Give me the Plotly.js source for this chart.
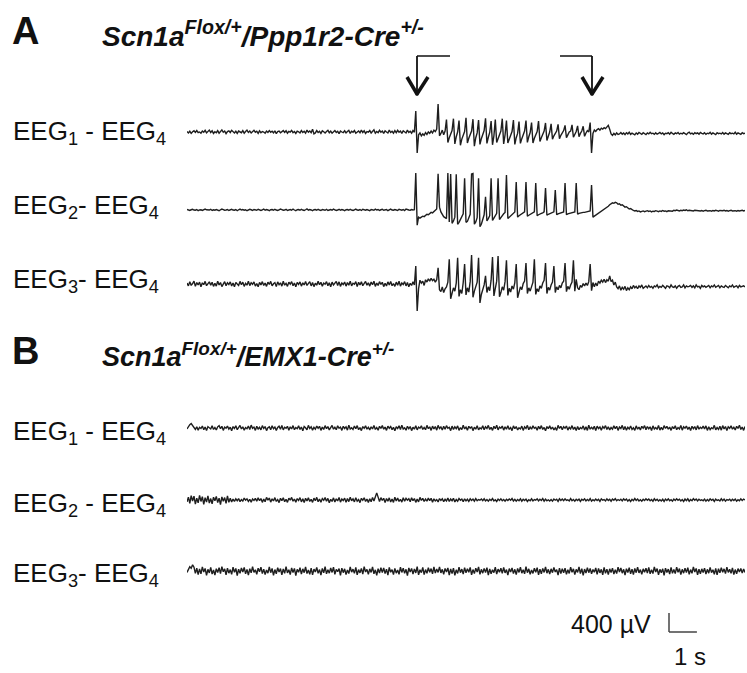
<!DOCTYPE html>
<html><head><meta charset="utf-8">
<script src="https://cdn.plot.ly/plotly-3.0.1.min.js"></script>
<style>html,body{margin:0;padding:0;background:#fff}#chart{width:747px;height:673px}</style>
</head><body><div id="chart"></div>
<script>
// ---------------- DATA (µV, sampled recordings) ----------------
const DT_A = 0.05;   // s per sample, panel A
const DT_B = 0.05;   // s per sample, panel B
const DURATION = 20; // s
const SCALE_UV = 400, SCALE_S = 1;
const channelLabelsA = ["EEG<sub>1</sub> - EEG<sub>4</sub>", "EEG<sub>2</sub>- EEG<sub>4</sub>", "EEG<sub>3</sub>- EEG<sub>4</sub>"];
const channelLabelsB = ["EEG<sub>1</sub> - EEG<sub>4</sub>", "EEG<sub>2</sub> - EEG<sub>4</sub>", "EEG<sub>3</sub>- EEG<sub>4</sub>"];
const titleA = "<b><i>Scn1a<sup>Flox/+</sup>/Ppp1r2-Cre<sup>+/-</sup></i></b>";
const titleB = "<b><i>Scn1a<sup>Flox/+</sup>/EMX1-Cre<sup>+/-</sup></i></b>";

const A1 = [10,-20,15,-30,5,25,-10,30,-15,0,
-25,20,-5,35,-20,10,40,-10,25,-30,
5,-15,30,-25,15,45,-5,20,-35,10,
25,-10,35,0,-20,15,-30,20,5,-15,
30,-25,10,40,-10,20,-20,5,35,-5,
15,-30,25,-15,10,0,-25,20,-10,30,
-5,15,-20,25,-35,10,20,-15,5,30,
-10,25,-25,15,0,35,-15,10,-30,20,
5,-20,30,-10,15,-25,40,-5,20,-15,
60,-40,-20,30,-10,15,-30,25,5,-20,
10,35,-15,20,-25,5,30,-10,15,-35,
20,0,-15,25,-20,10,35,-30,15,-5,
30,-25,5,20,-15,40,-10,25,-30,10,
-5,30,-20,15,45,-25,10,-15,35,-5,
20,-30,25,0,-20,40,-10,15,-25,30,
-15,35,-5,20,-30,25,10,-20,40,-10,
15,-25,30,-5,
440,-440,-60,-20,-80,-40,-70,-10,-50,0,
-30,20,-20,40,10,60,590,-80,-30,40,
-60,20,
260,-220,-120,-40,30,
280,-250,-100,0,
240,-280,-150,-60,10,
300,-230,-130,-50,20,
270,-300,-120,-20,
250,-260,-140,-50,30,
290,-240,-110,-10,
230,-270,-80,
260,-220,-130,-40,20,
280,-250,-60,
240,-230,-150,-70,10,
250,-260,-120,-30,
220,-240,-140,-50,20,
240,-220,-100,-10,
200,-230,-130,-60,10,
230,-200,-120,-40,20,
190,-180,-90,0,
170,-150,-80,-30,20,
160,-140,-70,-10,30,
140,-120,-60,0,20,
150,-110,-40,10,
130,-100,-30,20,
120,-90,-20,30,0,
200,-440,-30,40,10,
50,70,40,80,60,90,70,110,140,60,
-40,-70,-30,-60,-20,-50,-40,
-10,-45,-20,-55,-15,-40,-5,-50,-25,-35,
-60,-20,-45,-10,-35,-50,-15,-30,-55,-20,
-40,-5,-35,-25,-50,-15,-45,-30,-10,-40,
-20,-55,-25,-35,-15,-45,-5,-30,-50,-20,
-35,-10,-45,-25,-40,-15,-30,-55,-20,-5,
-40,-25,-50,-15,-35,-20,-45,-10,-30,-40,
-15,-50,-25,-35,-5,-45,-20,-30,-55,-15,
-35,-25,-40,-10,-45,-20,-30,-50,-15,-35,
-25,-40,-5,-45,-20,-30,-50,-15,-35,-25];

const A2 = [10,0,-10,5,15,0,-5,10,-15,0,
5,-10,10,20,5,-5,0,15,-10,5,
-5,10,0,-15,5,20,10,-5,0,10,
-10,5,15,0,-5,10,-15,5,20,0,
10,-5,5,-15,0,15,5,-10,10,0,
-5,15,0,-10,5,20,-5,10,0,-15,
5,10,-5,15,0,-10,5,20,10,-5,
0,15,-10,5,10,-5,20,0,-15,5,
10,-5,15,0,-10,5,25,-5,10,0,
-15,5,10,-5,15,0,-10,10,5,-5,
15,-10,0,10,-5,20,5,-10,0,15,
-5,10,0,-15,5,10,-5,15,0,-10,
5,20,0,-5,10,-10,15,5,-5,10,
0,-15,10,5,-5,20,0,10,-10,5,
15,-5,0,10,-15,5,20,0,-5,10,
5,-10,15,0,-5,10,-10,20,5,0,
-5,10,0,5,
780,-320,-150,-170,-150,-130,-140,-110,-90,-100,
-70,-50,-60,-30,-10,20,
760,60,-40,-100,-140,-160,
-180,780,-250,760,-280,-230,-150,
750,-300,-260,-200,-140,-80,
670,-260,-240,-170,-90,
760,770,-300,-250,-160,
670,-350,-300,-200,-100,
280,-230,-180,-120,
670,-220,-170,-120,-70,
670,-200,-160,-110,-80,-50,
735,-180,-150,-110,-90,-70,-40,
590,-150,-120,-100,-80,-60,-40,
590,-130,-110,-90,-80,-60,-40,
570,-120,-100,-80,-70,-60,-40,
460,-110,-90,-80,-70,-60,-40,
420,-100,-80,-70,-60,-60,-40,
570,-100,-80,-70,-60,-50,-50,-40,
570,-90,-70,-60,-60,-50,-50,-40,-40,-30,-20,
525,-150,-130,-110,-90,-70,-50,-30,-10,10,
30,60,80,110,130,150,140,160,150,120,
130,100,110,80,60,70,40,20,30,0,
-10,-20,-10,-30,-20,-40,
-30,-20,-35,-25,-15,-30,-20,-40,-25,-30,
-15,-25,-35,-20,-30,-10,-25,-20,-35,-15,
-20,-10,-25,-5,-15,0,-10,-20,-5,-15,
0,-10,5,-15,-5,-10,0,-20,-5,-10,
-15,-5,-20,-10,-25,-15,-5,-20,-10,-15,
-25,-10,-20,-5,-15,-25,-10,-20,-15,-5,
-20,-10,-25,-15,-5,-20,-10,-15,-25,-10,
-20,-15,-5,-20,-10];

const A3 = [20,-40,50,-30,10,60,-50,30,-20,40,
-60,25,-15,55,-35,5,45,-25,35,-50,
15,-45,60,-20,30,-55,10,50,-35,25,
-10,45,-40,20,-60,35,0,-30,55,-15,
40,-50,15,-25,60,-35,25,-5,45,-45,
10,-60,35,-20,50,-30,20,-50,40,-10,
55,-40,5,30,-55,45,-15,25,-45,60,
-25,15,-50,40,-5,50,-35,20,-60,35,
-10,45,-45,25,-20,55,-30,10,50,-40,
30,-55,15,-25,60,-15,35,-45,20,-5,
50,-35,25,-60,40,-20,10,55,-30,45,
-50,20,-10,40,-45,30,-25,60,-40,15,
-5,50,-55,35,-20,45,-35,10,55,-25,
25,-45,40,-15,60,-50,20,-30,50,-10,
35,-55,15,-40,45,-20,55,-35,10,-50,
40,-25,60,-45,20,-10,50,-40,30,-60,
15,-30,45,-20,
380,-570,-100,80,20,60,-30,90,40,110,
60,120,70,100,40,90,
340,-120,-160,-60,-180,-100,
-60,40,520,-310,-200,-80,-150,20,
550,-260,-120,-200,30,
420,-230,-80,-170,50,
610,-280,-150,-60,40,
550,-400,-220,-100,-20,
170,-180,-60,-140,80,
570,-250,-120,60,
590,-270,-180,-60,-130,50,
500,-240,-90,-170,-40,-110,30,
420,-290,-150,-60,-120,10,60,
440,-200,-80,-150,-20,40,
520,-220,-100,-160,-40,-90,20,80,
440,-200,-70,-130,-20,40,
380,-180,-60,-120,-30,-80,20,60,
440,-160,-50,-110,-20,40,
500,-150,100,-80,-120,-30,-70,10,-40,20,-30,50,
420,-140,30,-60,20,-40,
60,20,80,40,100,30,90,60,170,50,
80,-20,40,-60,-100,-40,-130,-70,-110,-50,
-140,-80,-120,-60,-100,
-30,-80,-50,-100,-40,-70,-20,-90,-60,-40,
-80,-30,-70,-50,-90,-40,-60,-20,-80,-50,
-70,-30,-60,-90,-40,-50,-80,-20,-60,-70,
-40,-90,-50,-30,-70,-60,-20,-80,-40,-60,
-50,-30,-70,-40,-80,-20,-60,-50,-90,-30,
-60,-40,-70,-50,-30,-80,-40,-60,-20,-70,
-50,-30,-80,-40,-60,-70,-30,-50,-80,-40,
-60,-20,-70,-50,-40,-80,-30,-60,-50,-40,-60];

const B1 = [-20,30,70,95,60,10,-30,25,-45,15,
-10,40,-35,20,-55,30,5,-20,45,-30,
10,-40,25,50,-15,35,-50,20,-5,40,
-25,15,-60,30,-10,45,-35,5,55,-20,
25,-45,10,-15,40,-30,60,-5,20,-50,
35,-20,15,-40,50,-10,30,-55,5,25,
-35,45,-15,20,-50,10,40,-25,55,-40,
15,-5,35,-45,25,-20,50,-35,10,-15,
45,-30,20,-60,30,5,-40,55,-10,25,
-45,15,-25,40,-5,35,-50,20,-30,50,
-15,30,-40,10,55,-25,15,-35,45,-5,
20,-50,35,-10,25,-45,60,-20,5,-30,
40,-15,50,-35,10,-55,30,-5,45,-25,
15,-40,25,-20,55,-30,10,-45,35,-10,
50,-25,20,-50,40,-5,30,-35,15,-60,
25,-10,45,-30,60,-20,5,-45,35,-15,
30,-55,15,-25,50,-40,20,-5,45,-30,
10,-35,55,-15,25,-50,40,-20,30,-45,
55,-10,20,-40,35,-25,50,-5,15,-55,
40,-30,25,-15,45,-50,10,-35,60,-20,
20,-45,35,-5,30,-55,15,-25,50,-40,
5,-20,45,-35,25,-10,55,-30,15,-50,
35,-15,60,-40,20,-5,40,-45,25,-25,
50,-30,10,-55,45,-15,30,-40,5,-20,
40,-50,25,-10,55,-35,20,-25,45,-5,
15,-45,35,-20,50,-30,10,-60,30,-15,
45,-25,20,-40,5,-50,55,-10,35,-35,
25,-5,40,-45,15,-20,50,-30,20,-55,
30,-35,10,-15,45,-40,25,-50,60,-25,
15,-20,35,-55,40,-10,20,-45,30,-5,
50,-30,25,-40,10,-25,45,-15,35,-50,
20,-10,55,-35,30,-45,15,-20,40,-30,
5,-50,45,-25,20,-40,35,-5,50,-35,
30,-15,25,-55,45,-20,10,-30,55,-45,
15,-40,50,-10,35,-25,20,-50,30,-15,
45,-35,10,-20,55,-45,25,-5,40,-30,
20,-55,35,-15,30,-40,50,-25,15,-10,
40,-20,45,-50,25,-35,5,-15,55,-40,
10,-30,35,-45,50,-20,30,-55,25,-5,
45,-25,15,-40,35,-10,60,-30,20,-50,
30];

const B2 = [-40,60,-70,90,-20,80,-85,40,-60,95,
-30,70,-90,50,-45,85,-65,30,-80,60,
-15,75,-55,40,-95,65,-25,50,-70,85,
-50,35,-40,20,-30,25,-15,30,-35,10,
-20,40,-5,25,-30,15,-45,20,-10,35,
-25,45,-15,30,-50,20,-35,55,-5,40,
-45,25,-20,50,-30,10,-55,35,-15,45,
-35,15,-50,40,-5,55,-25,20,-45,30,
-10,50,-40,25,-55,35,-20,45,-30,15,
-50,40,-15,55,-35,20,-45,30,-5,50,
-25,35,-60,15,-30,45,-40,25,-20,55,
-45,20,-10,40,-50,30,-35,60,-15,25,
-40,50,-25,10,-55,35,-5,45,-30,20,
-50,25,-35,55,-20,70,150,60,-30,50,
-10,35,-55,30,-25,45,-40,20,-50,60,
-20,40,-30,15,-45,50,-25,35,-5,25,
-35,45,-15,30,-50,20,-40,55,-10,35,
-30,20,-25,40,-15,35,-45,25,-20,10,
-40,30,-10,25,-35,15,-20,40,-30,20,
-15,35,-40,10,-25,30,-5,20,-35,25,
-20,15,-30,25,-10,20,-25,30,-15,10,
-5,20,-15,25,-20,10,-25,15,-10,30,
-20,5,-30,20,-10,25,-15,10,-25,15,
-10,20,-5,30,-20,15,-25,10,-15,25,
-25,15,-10,20,-30,5,-15,25,-20,10,
-5,25,-20,15,-10,30,-25,20,-15,5,
-20,10,-25,20,-5,15,-30,25,-10,20,
-15,25,-10,5,-20,30,-15,10,-25,15,
-10,20,-30,15,-5,25,-20,10,-15,30,
-25,5,-15,20,-10,15,-30,25,-5,10,
-20,25,-10,15,-25,20,-5,30,-15,10,
-10,15,-20,25,-5,20,-25,10,-30,15,
-15,30,-10,20,-20,5,-25,15,-10,25,
-5,20,-15,10,-25,25,-10,15,-20,5,
-20,15,-30,20,-10,25,-15,5,-25,20,
-10,25,-5,15,-20,10,-30,20,-15,25,
-25,10,-15,30,-5,20,-20,15,-10,5,
-15,20,-25,10,-20,25,-5,15,-30,20,
-10,5,-20,25,-15,20,-25,10,-5,15,
-20,15,-10,20,-25,5,-15,25,-10,20,
0];

const B3 = [-30,40,90,60,130,80,-50,60,-75,45,
-60,85,-20,55,-90,35,-40,75,-65,20,
-85,50,-30,70,-55,90,-15,45,-80,60,
-45,30,-70,80,-25,55,-95,40,-50,65,
-20,75,-60,35,-85,50,-40,90,-30,25,
-70,60,-15,80,-55,40,-75,20,-45,85,
-35,55,-90,30,-60,70,-20,50,-80,45,
-50,90,-40,25,-75,65,-30,55,-95,35,
-25,70,-65,45,-35,85,-55,20,-70,60,
-80,40,-20,75,-50,30,-85,55,-40,90,
-60,25,-45,65,-30,80,-70,35,-15,50,
-90,60,-35,45,-75,20,-55,85,-25,40,
-50,75,-80,30,-40,55,-65,90,-20,35,
-70,45,-30,85,-60,25,-90,50,-45,70,
-35,65,-55,40,-85,75,-25,30,-75,55,
-45,20,-70,80,-30,60,-50,35,-95,65,
-20,55,-65,45,-40,90,-80,25,-35,75,
-75,30,-50,70,-25,50,-60,85,-45,40,
-30,85,-40,35,-70,55,-20,65,-85,45,
-55,60,-90,25,-50,80,-35,40,-65,70,
-40,50,-25,75,-80,30,-55,60,-20,85,
-70,35,-45,55,-30,70,-85,45,-60,25,
-35,80,-65,40,-25,60,-50,75,-40,30,
-85,50,-20,65,-55,35,-75,55,-30,80,
-45,25,-60,90,-35,45,-70,20,-50,60,
-25,70,-80,40,-60,55,-30,85,-45,35,
-65,45,-35,75,-20,30,-85,60,-55,50,
-40,60,-70,25,-50,80,-25,45,-75,35,
-30,85,-55,50,-90,40,-45,70,-35,55,
-60,30,-25,65,-70,55,-40,35,-80,75,
-50,40,-75,45,-30,60,-65,25,-55,80,
-20,65,-45,35,-85,50,-30,70,-60,40,
-75,55,-35,80,-40,30,-70,45,-25,60,
-45,75,-60,25,-55,85,-20,50,-80,35,
-35,45,-90,60,-30,40,-65,75,-50,30,
-55,80,-25,50,-75,35,-45,60,-35,70,
-70,30,-50,85,-20,55,-80,40,-60,45,
-30,60,-65,35,-45,75,-35,25,-70,55,
-80,50,-40,70,-25,45,-55,80,-30,35,
-50,65,-75,30,-60,50,-20,55,-45,40,
-30];

// ---------------- LAYOUT GEOMETRY (pixels) ----------------
const W = 747, H = 673;
const PX_PER_400UV = 19;                 // vertical scale bar height in px
const UV_PER_PX = SCALE_UV / PX_PER_400UV;
const X_LEFT = 187, X_RIGHT = 745;       // trace extent
const px = x => x / W;
const py = y => 1 - y / H;
const HALF = 60;                         // half height of each trace band, px
const FONT = 'Liberation Sans, Arial, sans-serif';

const series = [
  {v: A1, dt: DT_A, base: 132},
  {v: A2, dt: DT_A, base: 210},
  {v: A3, dt: DT_A, base: 284},
  {v: B1, dt: DT_B, base: 428},
  {v: B2, dt: DT_B, base: 500},
  {v: B3, dt: DT_B, base: 571}
];

const traces = [];
const layout = {
  width: W, height: H,
  margin: {l: 0, r: 0, t: 0, b: 0},
  paper_bgcolor: '#fff', plot_bgcolor: 'rgba(0,0,0,0)',
  showlegend: false,
  font: {family: FONT, color: '#111'},
  xaxis: {domain: [px(X_LEFT), px(X_RIGHT)], range: [0, DURATION], visible: false, fixedrange: true},
  annotations: [], shapes: []
};

series.forEach((s, k) => {
  const ax = k === 0 ? 'y' : 'y' + (k + 1);
  const axName = k === 0 ? 'yaxis' : 'yaxis' + (k + 1);
  traces.push({
    type: 'scatter', mode: 'lines', xaxis: 'x', yaxis: ax,
    x: s.v.map((_, i) => i * s.dt), y: s.v,
    line: {color: '#1e1e1e', width: 1.4}, hoverinfo: 'skip'
  });
  layout[axName] = {
    domain: [py(s.base + HALF), py(s.base - HALF)],
    range: [-HALF * UV_PER_PX, HALF * UV_PER_PX],
    anchor: 'x', visible: false, fixedrange: true
  };
});

// scale bar axis (same µV/px scale as the traces)
const SB_BASE = 632, SB_HALF = 40;
layout.yaxis7 = {domain: [py(SB_BASE + SB_HALF), py(SB_BASE - SB_HALF)],
  range: [-SB_HALF * UV_PER_PX, SB_HALF * UV_PER_PX], anchor: 'x', visible: false, fixedrange: true};
const SB_T0 = (669 - X_LEFT) / (X_RIGHT - X_LEFT) * DURATION;
layout.shapes.push({type: 'line', xref: 'x', yref: 'y7', x0: SB_T0, x1: SB_T0, y0: 0, y1: SCALE_UV, line: {color: '#444', width: 1.5}});
layout.shapes.push({type: 'line', xref: 'x', yref: 'y7', x0: SB_T0, x1: SB_T0 + SCALE_S, y0: 0, y1: 0, line: {color: '#444', width: 1.5}});

// arrows marking seizure onset / offset
function seg(x0, y0, x1, y1, w) {
  return {type: 'line', xref: 'paper', yref: 'paper', x0: px(x0), y0: py(y0), x1: px(x1), y1: py(y1), line: {color: '#111', width: w}};
}
layout.shapes.push(seg(417, 56, 450, 56, 1.5), seg(417, 56, 417, 93, 1.8), seg(407, 77, 417.6, 95, 3.5), seg(428, 77, 416.4, 95, 3.5));
layout.shapes.push(seg(560, 56, 592, 56, 1.5), seg(592, 56, 592, 93, 1.8), seg(582, 77, 592.6, 95, 3.5), seg(603, 77, 591.4, 95, 3.5));

function text(t, x, y, size, opts) {
  return Object.assign({text: t, xref: 'paper', yref: 'paper', x: px(x), y: py(y),
    xanchor: 'left', yanchor: 'middle', showarrow: false,
    font: {size: size, color: '#111', family: FONT}}, opts || {});
}
layout.annotations.push(text('<b>A</b>', 10, 31, 38));
layout.annotations.push(text(titleA, 100, 34, 28));
layout.annotations.push(text('<b>B</b>', 10, 351, 38));
layout.annotations.push(text(titleB, 100, 355, 27));
const labelYA = [133, 206, 280], labelYB = [432, 504, 574];
channelLabelsA.forEach((l, i) => layout.annotations.push(text(l, 11, labelYA[i], 26)));
channelLabelsB.forEach((l, i) => layout.annotations.push(text(l, 11, labelYB[i], 26)));
layout.annotations.push(text(SCALE_UV + ' µV', 569, 624, 25));
layout.annotations.push(text(SCALE_S + ' s', 672, 672, 24, {yanchor: 'bottom'}));

Plotly.newPlot('chart', traces, layout, {staticPlot: true, displayModeBar: false});
</script>
</body></html>
